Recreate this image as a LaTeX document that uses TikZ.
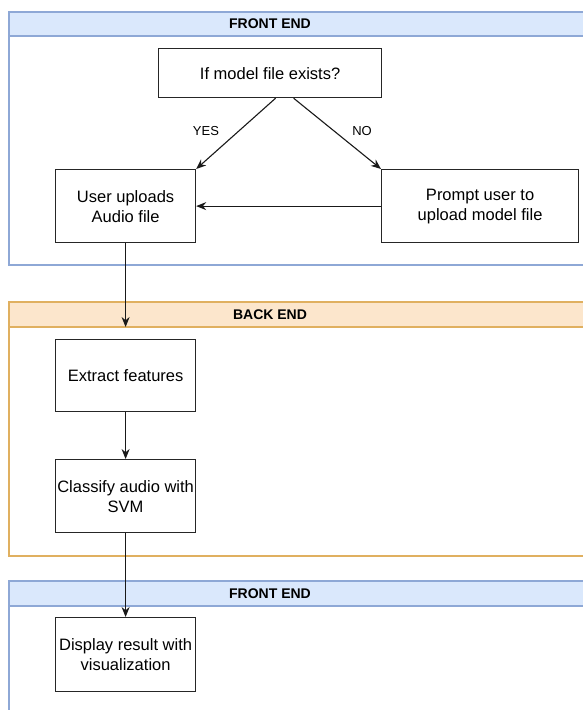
\documentclass[tikz,border=0pt]{standalone}
\usepackage{fontspec}
\setmainfont{Liberation Sans}
\usetikzlibrary{arrows.meta,calc}

\definecolor{feFill}{HTML}{DAE8FC}
\definecolor{feLine}{HTML}{8EA8D6}
\definecolor{beFill}{HTML}{FCE6CC}
\definecolor{beLine}{HTML}{E0B060}

\tikzset{
  stepbox/.style={draw=black!85, line width=1.2pt, fill=white, align=center,
    font=\fontsize{16.5}{20}\selectfont, inner sep=0pt, anchor=north west},
  flow/.style={draw=black!90, line width=1.1pt, -{Stealth[length=10pt,width=8pt]}},
  lbl/.style={font=\fontsize{13}{15}\selectfont, inner sep=0pt},
  hdr/.style={font=\bfseries\fontsize{14}{16}\selectfont, inner sep=0pt},
  lane/.style={line width=1.2pt, fill=white},
}

\begin{document}
\begin{tikzpicture}[x=1pt,y=-1pt]
\useasboundingbox (0,0) rectangle (582,710);
\fill[white] (0,0) rectangle (582,710);

% swimlane: front end (top)
\draw[lane, draw=feLine] (9,12) rectangle (600,265);
\draw[lane, draw=feLine, fill=feFill] (9,12) rectangle (600,36);
\node[hdr] (h1) at (270,24) {FRONT END};

% swimlane: back end
\draw[lane, draw=beLine] (9,302) rectangle (600,556);
\draw[lane, draw=beLine, fill=beFill] (9,302) rectangle (600,327);
\node[hdr] (h2) at (270,314.5) {BACK END};

% swimlane: front end (bottom)
\draw[lane, draw=feLine] (9,581) rectangle (600,720);
\draw[lane, draw=feLine, fill=feFill] (9,581) rectangle (600,606);
\node[hdr] (h3) at (270,593.5) {FRONT END};

% process steps
\node[stepbox, minimum width=223pt, minimum height=49pt] (q) at (158,48) {If model file exists?};
\node[stepbox, minimum width=140pt, minimum height=73pt] (up) at (55,169) {User uploads\\Audio file};
\node[stepbox, minimum width=197pt, minimum height=73pt] (pr) at (381,169) {Prompt user to\\upload model file};
\node[stepbox, minimum width=140pt, minimum height=72pt] (ex) at (55,339) {Extract features};
\node[stepbox, minimum width=140pt, minimum height=73pt] (cl) at (55,459) {Classify audio with\\SVM};
\node[stepbox, minimum width=140pt, minimum height=74pt] (dp) at (55,617) {Display result with\\visualization};

\coordinate (qy) at ($(q.south)+(5.5,0)$);
\coordinate (qn) at ($(q.south)+(23.5,0)$);
\coordinate (beTop) at (up.south |- 0,327);

% connectors
\draw[flow] (qy) -- (up.north east);
\draw[flow] (qn) -- (pr.north west);
\draw[flow] (pr.west) -- (up.east);
\draw[flow] (up.south) -- (beTop);
\draw[flow] (ex.south) -- (cl.north);
\draw[flow] (cl.south) -- (dp.north);

\node[lbl] (yes) at (206,131) {YES};
\node[lbl] (no) at (362,131) {NO};
\end{tikzpicture}
\end{document}
